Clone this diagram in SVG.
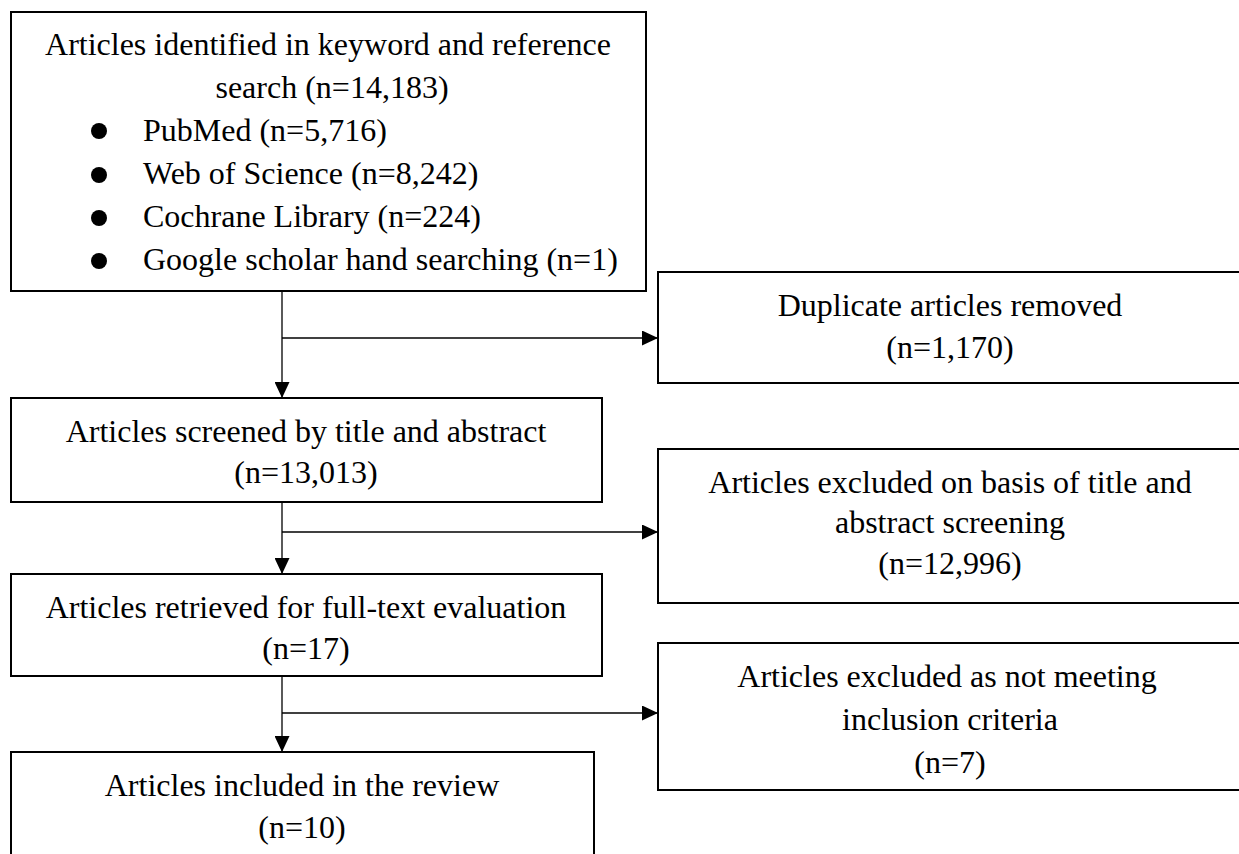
<svg xmlns="http://www.w3.org/2000/svg" width="1239" height="854" viewBox="0 0 1239 854">
<style>
.box{fill:#fff;stroke:#000;stroke-width:2}
.t{font-family:"Liberation Serif","Times New Roman",serif;font-size:32px;fill:#000}
.c{text-anchor:middle}
.conn{stroke:#000;stroke-width:1.3;fill:none}
</style>
<defs>
<marker id="ah" markerUnits="userSpaceOnUse" markerWidth="16" markerHeight="15" refX="16" refY="7.5" orient="auto">
<path d="M0,0 L16,7.5 L0,15 z" fill="#000"/>
</marker>
</defs>
<rect width="1239" height="854" fill="#fff"/>
<g id="connectors">
<line class="conn" x1="282" y1="291" x2="282" y2="398" marker-end="url(#ah)"/>
<line class="conn" x1="282" y1="338" x2="658" y2="338" marker-end="url(#ah)"/>
<line class="conn" x1="282" y1="502" x2="282" y2="574" marker-end="url(#ah)"/>
<line class="conn" x1="282" y1="532" x2="658" y2="532" marker-end="url(#ah)"/>
<line class="conn" x1="282" y1="676" x2="282" y2="752" marker-end="url(#ah)"/>
<line class="conn" x1="282" y1="713" x2="658" y2="713" marker-end="url(#ah)"/>
</g>
<g id="identified">
<rect class="box" x="11" y="12" width="635" height="279"/>
<text class="t c" x="328" y="55">Articles identified in keyword and reference</text>
<text class="t c" x="332" y="98">search (n=14,183)</text>
<circle cx="99" cy="131" r="8"/>
<text class="t" x="143" y="141">PubMed (n=5,716)</text>
<circle cx="99" cy="175" r="8"/>
<text class="t" x="143" y="184">Web of Science (n=8,242)</text>
<circle cx="99" cy="218" r="8"/>
<text class="t" x="143" y="227">Cochrane Library (n=224)</text>
<circle cx="99" cy="261" r="8"/>
<text class="t" x="143" y="270">Google scholar hand searching (n=1)</text>
</g>
<g id="duplicates">
<rect class="box" x="658" y="272" width="590" height="111"/>
<text class="t c" x="950" y="316">Duplicate articles removed</text>
<text class="t c" x="950" y="358">(n=1,170)</text>
</g>
<g id="screened">
<rect class="box" x="11" y="398" width="591" height="104"/>
<text class="t c" x="306" y="442">Articles screened by title and abstract</text>
<text class="t c" x="306" y="483">(n=13,013)</text>
</g>
<g id="excluded-title">
<rect class="box" x="658" y="449" width="590" height="154"/>
<text class="t c" x="950" y="493">Articles excluded on basis of title and</text>
<text class="t c" x="950" y="533">abstract screening</text>
<text class="t c" x="950" y="574">(n=12,996)</text>
</g>
<g id="retrieved">
<rect class="box" x="11" y="574" width="591" height="102"/>
<text class="t c" x="306" y="618">Articles retrieved for full-text evaluation</text>
<text class="t c" x="306" y="659">(n=17)</text>
</g>
<g id="excluded-criteria">
<rect class="box" x="658" y="643" width="590" height="147"/>
<text class="t c" x="947" y="687">Articles excluded as not meeting</text>
<text class="t c" x="950" y="730">inclusion criteria</text>
<text class="t c" x="950" y="773">(n=7)</text>
</g>
<g id="included">
<rect class="box" x="11" y="752" width="583" height="130"/>
<text class="t c" x="302" y="796">Articles included in the review</text>
<text class="t c" x="302" y="838">(n=10)</text>
</g>
</svg>
